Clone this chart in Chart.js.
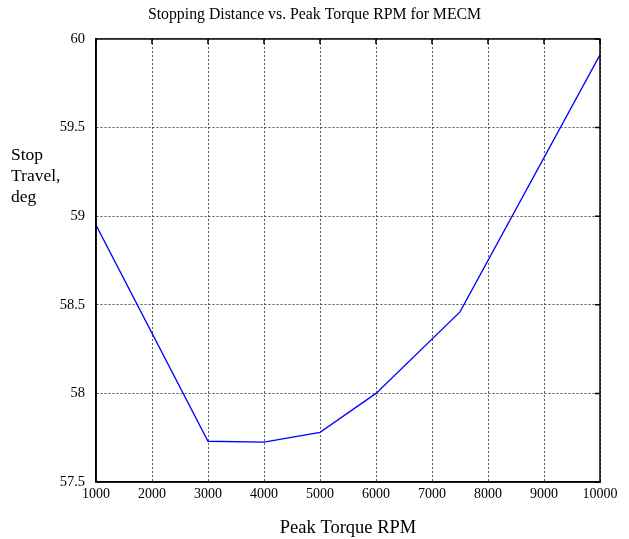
<!DOCTYPE html>
<html>
<head>
<meta charset="utf-8">
<script src="https://cdn.jsdelivr.net/npm/chart.js@4/dist/chart.umd.min.js"></script>
<style>
  html, body { margin: 0; padding: 0; background: #fff; }
  #wrap { width: 629px; height: 539px; }
</style>
</head>
<body>
<div id="wrap"><canvas id="stopChart" width="629" height="539"></canvas></div>
<script>
// peak torque rpm vs stop travel (deg)
const peakRpm = [1000, 3000, 4000, 5000, 6000, 7500, 10000];
const stopTravel = [58.95, 57.73, 57.725, 57.78, 58.0, 58.46, 59.91];
const yTicks = [57.5, 58, 58.5, 59, 59.5, 60];
const yTitleLines = ['Stop', 'Travel,', 'deg'];

const serif = "'Liberation Serif', 'Times New Roman', serif";

// frame, inner ticks on top/right, and the horizontal y title
const framePlugin = {
  id: 'frame',
  afterDraw(chart) {
    const ctx = chart.ctx;
    const a = chart.chartArea;
    const xs = chart.scales.x, ys = chart.scales.y;
    ctx.save();
    ctx.strokeStyle = '#000';
    ctx.lineWidth = 1.5;
    ctx.setLineDash([]);
    ctx.strokeRect(a.left, a.top, a.right - a.left, a.bottom - a.top);
    ctx.beginPath();
    xs.ticks.forEach(t => {
      const px = xs.getPixelForValue(t.value);
      ctx.moveTo(px, a.top);
      ctx.lineTo(px, a.top + 5);
    });
    ys.ticks.forEach(t => {
      const py = ys.getPixelForValue(t.value);
      ctx.moveTo(a.right, py);
      ctx.lineTo(a.right - 5, py);
    });
    ctx.stroke();

    ctx.fillStyle = '#000';
    ctx.font = '17.5px ' + serif;
    ctx.textAlign = 'left';
    ctx.textBaseline = 'alphabetic';
    yTitleLines.forEach((s, i) => ctx.fillText(s, 11, 160 + i * 21));
    ctx.restore();
  }
};

const ctx = document.getElementById('stopChart').getContext('2d');
const chart = new Chart(ctx, {
  type: 'line',
  data: {
    datasets: [{
      label: 'Stop Travel',
      data: peakRpm.map((r, i) => ({ x: r, y: stopTravel[i] })),
      borderColor: '#0000ff',
      backgroundColor: '#0000ff',
      borderWidth: 1.3,
      pointRadius: 0,
      tension: 0,
      fill: false
    }]
  },
  options: {
    responsive: false,
    animation: false,
    layout: { padding: 0 },
    plugins: {
      legend: { display: false },
      tooltip: { enabled: false },
      title: {
        display: true,
        text: 'Stopping Distance vs. Peak Torque RPM for MECM',
        color: '#000',
        font: { family: serif, size: 15.8, weight: 'normal' },
        padding: { top: 5, bottom: 15 }
      }
    },
    scales: {
      x: {
        type: 'linear',
        min: 1000,
        max: 10000,
        afterFit(scale) { scale.height = 57; },
        ticks: {
          stepSize: 1000,
          color: '#000',
          font: { family: serif, size: 14 },
          padding: 4,
          maxRotation: 0,
          callback: v => String(v)
        },
        grid: {
          color: '#555',
          lineWidth: 1,
          drawTicks: false
        },
        border: { color: '#000', width: 1.5, dash: [2, 2] },
        title: {
          display: true,
          text: 'Peak Torque RPM',
          color: '#000',
          font: { family: serif, size: 18.5 },
          padding: { top: 0, bottom: 0 }
        }
      },
      y: {
        min: 57.5,
        max: 60,
        afterFit(scale) { scale.width = 96; },
        afterBuildTicks(scale) { scale.ticks = yTicks.map(v => ({ value: v })); },
        ticks: {
          color: '#000',
          font: { family: serif, size: 14.5 },
          padding: 11,
          callback: v => String(v)
        },
        grid: {
          color: '#555',
          lineWidth: 1,
          drawTicks: false
        },
        border: { color: '#000', width: 1.5, dash: [2, 2] }
      },
      // empty right axis, only keeps the right margin
      yRight: {
        position: 'right',
        min: 57.5,
        max: 60,
        afterFit(scale) { scale.width = 29; },
        ticks: { display: false },
        grid: { display: false, drawTicks: false },
        border: { display: false }
      }
    }
  },
  plugins: [framePlugin]
});
</script>
</body>
</html>
